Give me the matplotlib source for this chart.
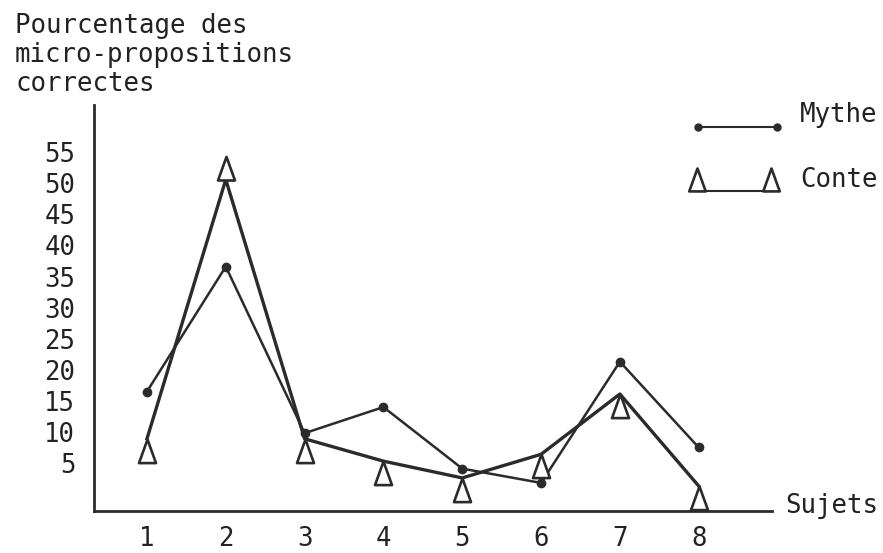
import numpy as np
import matplotlib
matplotlib.use('Agg')
import matplotlib.pyplot as plt
from matplotlib.path import Path

plt.rc('font', family='DejaVu Sans Mono')

# data
sujets = [1, 2, 3, 4, 5, 6, 7, 8]
mythe = [16.5, 36.6, 9.8, 14.0, 4.1, 1.8, 21.3, 7.5]
conte = [8.9, 50.6, 8.9, 5.3, 2.6, 6.4, 16.1, 1.3]
yticks = [5, 10, 15, 20, 25, 30, 35, 40, 45, 50, 55]

ink = '#2b2b2b'
fs = 18.5

# triangle hanging below its point (apex on the line) / sitting above it
tri_down = Path([(0, 0), (-0.36, -1), (0.36, -1), (0, 0)],
                [Path.MOVETO, Path.LINETO, Path.LINETO, Path.CLOSEPOLY])
tri_up = Path([(-0.36, 0), (0.36, 0), (0, 1), (-0.36, 0)],
              [Path.MOVETO, Path.LINETO, Path.LINETO, Path.CLOSEPOLY])

fig = plt.figure(figsize=(8.83, 5.53), dpi=100)
ax = fig.add_axes([94 / 883, 1 - 511 / 553, (772 - 94) / 883, (511 - 105) / 553])

ax.plot(sujets, mythe, color=ink, lw=1.8, marker='o', ms=6, zorder=3)
ax.plot(sujets, conte, color=ink, lw=2.4, zorder=2)
for i, (x, y) in enumerate(zip(sujets, conte)):
    m = tri_up if y == max(conte) else tri_down
    ax.plot([x], [y], linestyle='none', marker=m, ms=34, mfc='white',
            mec=ink, mew=1.9, zorder=4)

ax.set_xlim(0.328, 8.93)
ax.set_ylim(-2.72, 62.6)
ax.set_xticks(sujets)
ax.set_yticks(yticks)
ax.tick_params(length=0, labelsize=fs, colors='#222222')
ax.tick_params(axis='y', pad=13.5)
ax.tick_params(axis='x', pad=11)
for s in ['top', 'right']:
    ax.spines[s].set_visible(False)
for s in ['left', 'bottom']:
    ax.spines[s].set_color(ink)
    ax.spines[s].set_linewidth(2)

# titles
fig.text(15 / 883, 1 - 26 / 553, 'Pourcentage des', fontsize=fs, va='center', color='#222222')
fig.text(15 / 883, 1 - 55 / 553, 'micro-propositions', fontsize=fs, va='center', color='#222222')
fig.text(15 / 883, 1 - 84 / 553, 'correctes', fontsize=fs, va='center', color='#222222')
fig.text(785 / 883, 1 - 506 / 553, 'Sujets', fontsize=fs, va='center', color='#222222')

# hand-drawn legend
tf = fig.transFigure
fig.lines.append(plt.Line2D([698 / 883, 777 / 883], [1 - 127 / 553] * 2, transform=tf,
                            color=ink, lw=1.5, marker='o', ms=5))
fig.text(800 / 883, 1 - 115 / 553, 'Mythe', fontsize=fs, va='center', color='#222222')
fig.lines.append(plt.Line2D([697 / 883, 771 / 883], [1 - 191 / 553] * 2, transform=tf,
                            color=ink, lw=1.5))
for xx in [697, 771]:
    fig.lines.append(plt.Line2D([xx / 883], [1 - 168 / 553], transform=tf, linestyle='none',
                                marker=tri_down, ms=33, mfc='white', mec=ink, mew=1.9))
fig.text(800 / 883, 1 - 180 / 553, 'Conte', fontsize=fs, va='center', color='#222222')

plt.savefig('out.png', dpi=100)
plt.close()
